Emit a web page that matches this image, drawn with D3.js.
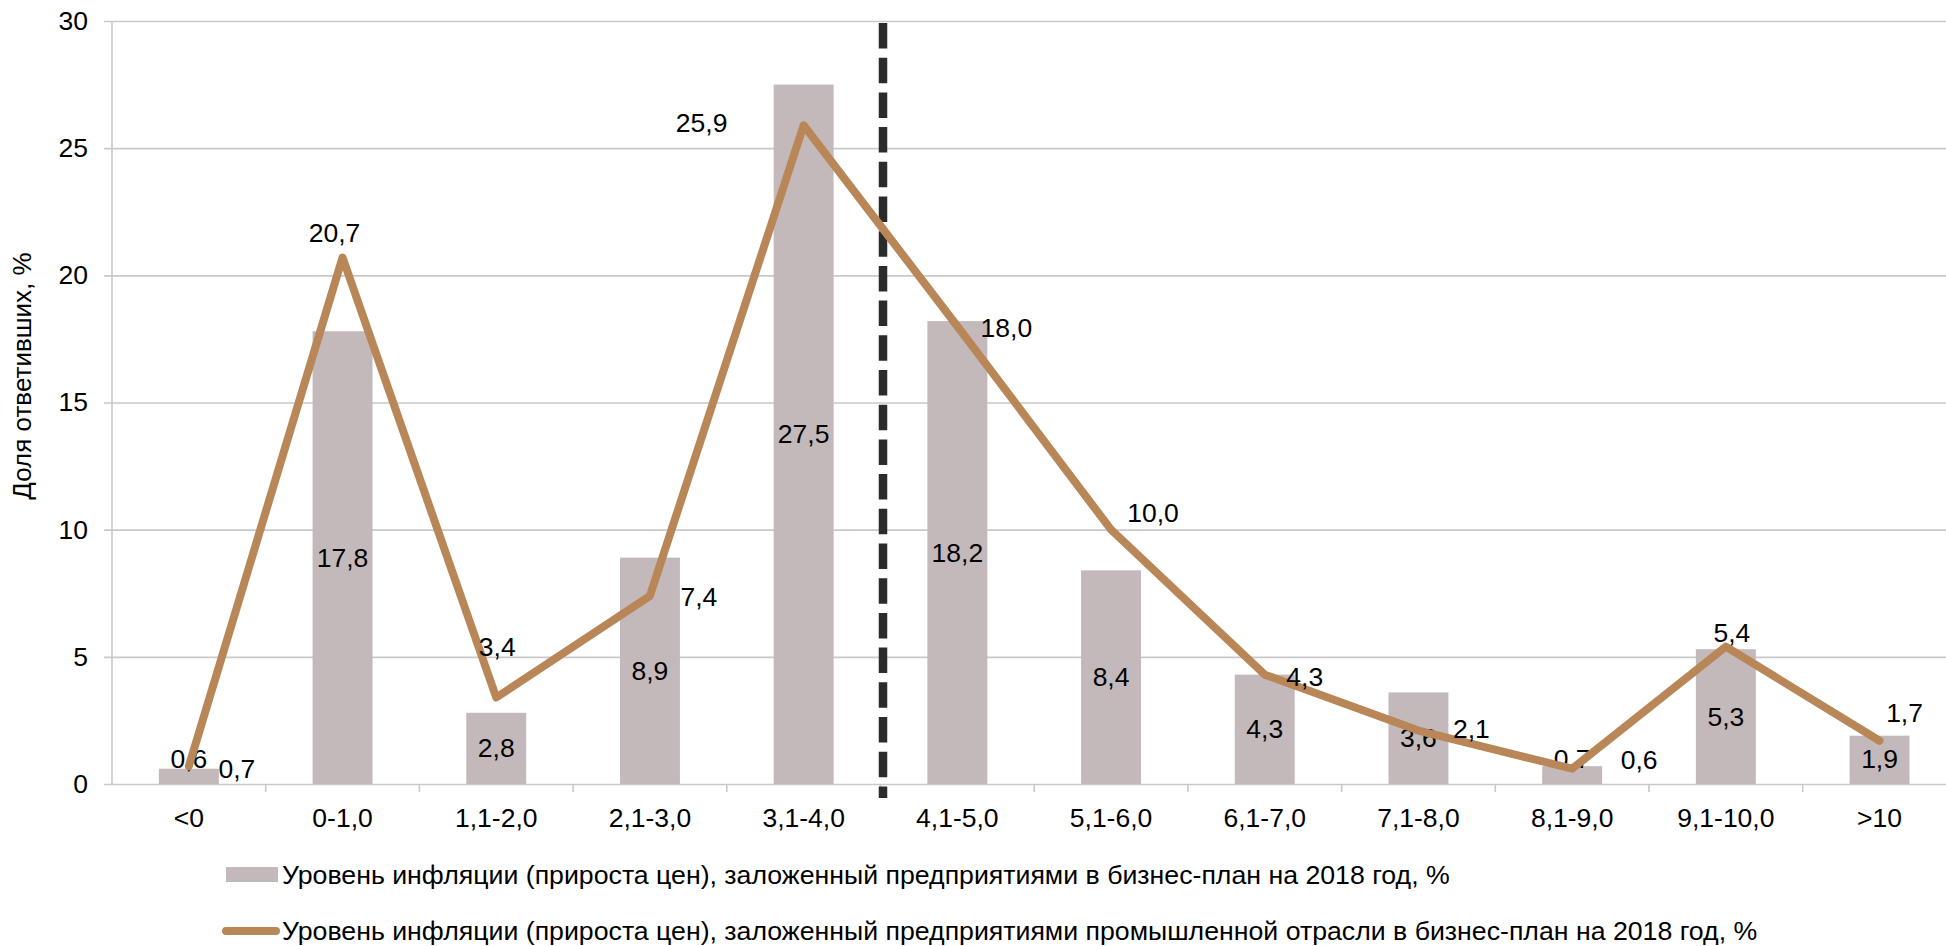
<!DOCTYPE html>
<html lang="ru">
<head>
<meta charset="utf-8">
<script src="https://cdn.jsdelivr.net/npm/d3@7"></script>
<style>
  html, body { margin: 0; padding: 0; background: #fff; }
  svg { display: block; }
  text { font-family: "Liberation Sans", Arial, sans-serif; fill: #000; }
</style>
</head>
<body>
<svg id="chart" width="1946" height="946"></svg>
<script>
// Ценовые интервалы (прирост цен, %)
const categories = ["<0", "0-1,0", "1,1-2,0", "2,1-3,0", "3,1-4,0", "4,1-5,0",
                    "5,1-6,0", "6,1-7,0", "7,1-8,0", "8,1-9,0", "9,1-10,0", ">10"];
// Все предприятия — доля ответивших, %
const allFirms = [0.6, 17.8, 2.8, 8.9, 27.5, 18.2, 8.4, 4.3, 3.6, 0.7, 5.3, 1.9];
// Предприятия промышленности — доля ответивших, %
const industry = [0.7, 20.7, 3.4, 7.4, 25.9, 18.0, 10.0, 4.3, 2.1, 0.6, 5.4, 1.7];
const yTicks = [0, 5, 10, 15, 20, 25, 30];

const barName = "Уровень инфляции (прироста цен), заложенный предприятиями в бизнес-план на 2018 год, %";
const lineName = "Уровень инфляции (прироста цен), заложенный предприятиями промышленной отрасли в бизнес-план на 2018 год, %";
const yTitle = "Доля ответивших, %";

// Placement of the line value labels relative to each vertex (px)
const lineLabelOffset = [[48, 3], [-8, -25], [1, -51], [49, 1], [-102, -2], [49, 2],
                         [42, -17], [40, 2], [53, -2], [67, -9], [6, -14], [25, -28]];

const barColor = "#c3b8ba";
const lineColor = "#b98757";
const gridColor = "#c9c9c9";
const fontSize = 26.5;

const svg = d3.select("#chart");
const plotLeft = 112, plotTop = 21, plotBottom = 784;
const step = 153.7;
const plotRight = plotLeft + step * categories.length;

const x = d3.scaleBand()
  .domain(categories)
  .range([plotLeft, plotRight])
  .paddingInner(0.61)
  .paddingOuter(0.305);
const xc = d => x(d) + x.bandwidth() / 2;

const y = d3.scaleLinear().domain([0, 30]).range([plotBottom, plotTop]);

// Gridlines and y axis
const yAxis = d3.axisLeft(y).tickValues(yTicks).tickSize(-(plotRight - plotLeft + 8)).tickPadding(16).tickFormat(d3.format("d"));
const gy = svg.append("g").attr("transform", `translate(${plotLeft - 8},0)`).call(yAxis);
gy.select(".domain").remove();
gy.selectAll(".tick line").attr("stroke", gridColor).attr("stroke-width", 1.6);
gy.selectAll(".tick text").attr("font-size", fontSize).attr("font-family", "Liberation Sans, Arial, sans-serif")
  .attr("fill", "#000");

svg.append("line")
  .attr("x1", plotLeft).attr("x2", plotLeft).attr("y1", plotTop).attr("y2", plotBottom)
  .attr("stroke", gridColor).attr("stroke-width", 1.6);

// Category boundary ticks below the axis
const boundaries = d3.range(1, categories.length + 1).map(i => plotLeft + i * x.step());
svg.append("g").selectAll("line").data(boundaries).join("line")
  .attr("x1", d => d).attr("x2", d => d)
  .attr("y1", plotBottom).attr("y2", plotBottom + 8)
  .attr("stroke", gridColor).attr("stroke-width", 1.6);

// Category labels
svg.append("g").selectAll("text").data(categories).join("text")
  .attr("x", d => xc(d)).attr("y", 818)
  .attr("text-anchor", "middle").attr("dominant-baseline", "central")
  .attr("font-size", fontSize)
  .text(d => d);

// Bars
svg.append("g").selectAll("rect").data(allFirms).join("rect")
  .attr("x", (d, i) => x(categories[i]))
  .attr("width", x.bandwidth())
  .attr("y", d => y(d))
  .attr("height", d => y(0) - y(d))
  .attr("fill", barColor);

// Divider between intervals below and above the 4% target
const divX = plotLeft + 5 * x.step() + 2.5;
svg.append("line")
  .attr("x1", divX).attr("x2", divX)
  .attr("y1", plotTop + 2).attr("y2", 798)
  .attr("stroke", "#2b2b2b").attr("stroke-width", 8.5)
  .attr("stroke-dasharray", "25.5 9.2");

// Bar value labels
const fmt = v => v.toFixed(1).replace(".", ",");
svg.append("g").selectAll("text").data(allFirms).join("text")
  .attr("x", (d, i) => xc(categories[i]))
  .attr("y", d => Math.min(y(d / 2), 759))
  .attr("text-anchor", "middle").attr("dominant-baseline", "central")
  .attr("font-size", fontSize)
  .text(d => fmt(d));

// Industry line
const line = d3.line().x((d, i) => xc(categories[i])).y(d => y(d));
svg.append("path")
  .datum(industry)
  .attr("d", line)
  .attr("fill", "none")
  .attr("stroke", lineColor)
  .attr("stroke-width", 8)
  .attr("stroke-linejoin", "round")
  .attr("stroke-linecap", "round");

// Line value labels
svg.append("g").selectAll("text").data(industry).join("text")
  .attr("x", (d, i) => xc(categories[i]) + lineLabelOffset[i][0])
  .attr("y", (d, i) => y(d) + lineLabelOffset[i][1])
  .attr("text-anchor", "middle").attr("dominant-baseline", "central")
  .attr("font-size", fontSize)
  .text(d => fmt(d));

// Y axis title
svg.append("text")
  .attr("transform", "translate(22,376) rotate(-90)")
  .attr("text-anchor", "middle").attr("dominant-baseline", "central")
  .attr("font-size", 26)
  .text(yTitle);

// Legend
const lg = svg.append("g");
lg.append("rect").attr("x", 226).attr("y", 867).attr("width", 52).attr("height", 15).attr("fill", barColor);
lg.append("text").attr("x", 282).attr("y", 875).attr("dominant-baseline", "central")
  .attr("font-size", 26.7).text(barName);
lg.append("line").attr("x1", 226).attr("x2", 276).attr("y1", 931).attr("y2", 931)
  .attr("stroke", lineColor).attr("stroke-width", 8).attr("stroke-linecap", "round");
lg.append("text").attr("x", 282).attr("y", 931).attr("dominant-baseline", "central")
  .attr("font-size", 26.7).text(lineName);
</script>
</body>
</html>
